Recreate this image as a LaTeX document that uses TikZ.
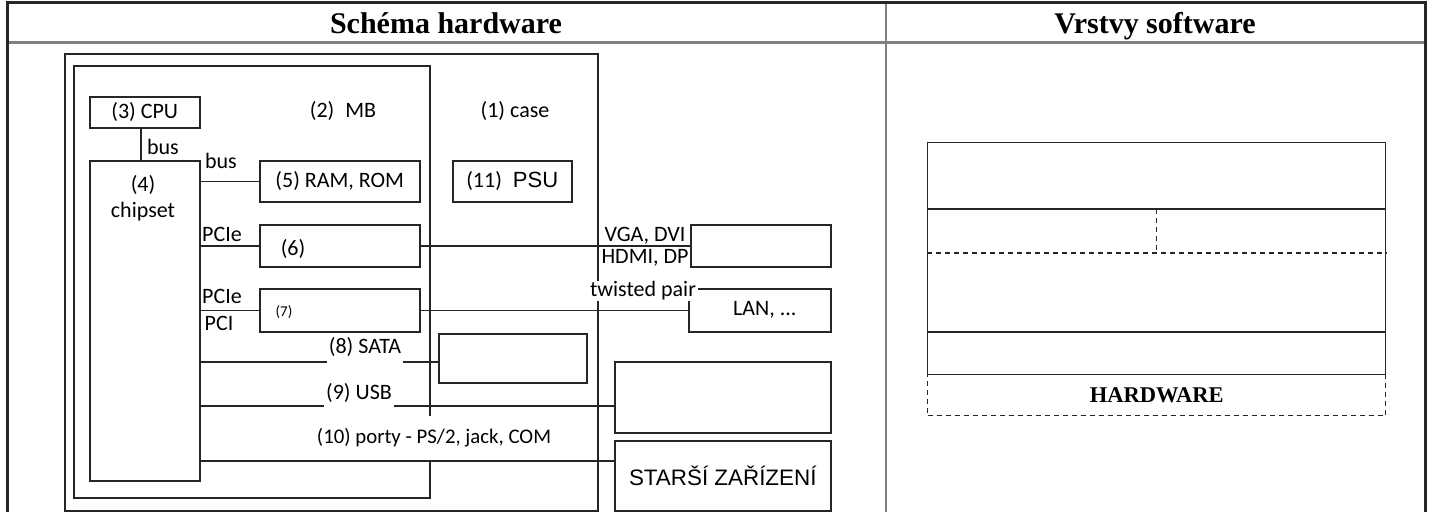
\documentclass[tikz,border=0pt]{standalone}
\usepackage{fontspec}
\setmainfont{Carlito}
\newfontfamily\titlefont{Liberation Serif}
\newfontfamily\arialfont{Liberation Sans}
\pgfdeclarelayer{bg}
\pgfdeclarelayer{back}
\pgfdeclarelayer{cover}
\pgfsetlayers{bg,back,cover,main}
\begin{document}
\begin{tikzpicture}[x=1pt,y=-1pt,
  box/.style={draw=black!85, line width=1.5pt, inner sep=0pt, anchor=north west, font=\fontsize{22}{26}\selectfont},
  conn/.style={draw=black!85, line width=1.5pt},
  lbl/.style={inner sep=1pt, font=\fontsize{22}{26}\selectfont},
  cover/.style={lbl, fill=white, inner xsep=2pt},
  frame/.style={draw=black!85, line width=3pt},
  grid/.style={draw=black!50, line width=2.5pt},
  title/.style={anchor=base, font=\titlefont\bfseries\fontsize{30}{36}\selectfont},
  swline/.style={draw=black!85, line width=1.3pt},
  swdash/.style={draw=black!85, line width=1.3pt, dash pattern=on 5pt off 4pt}
]
\begin{pgfonlayer}{bg}
\fill[white] (0,0) rectangle (1433,512);
\end{pgfonlayer}
\useasboundingbox (0,0) rectangle (1433,512);
% table frame
\draw[grid] (7,42.5) -- (1425,42.5);
\draw[grid] (886,2) -- (886,512);
\draw[frame] (7,2) -- (1425,2);
\draw[frame] (7,0.5) -- (7,512);
\draw[frame] (1425,0.5) -- (1425,512);
\node[title] (t1) at (446,33) {Schéma hardware};
\node[title] (t2) at (1155,33) {Vrstvy software};

% small boxes
\node[box, minimum width=110pt, minimum height=31pt] (cpu) at (89,96) {(3) CPU};
\node[box, minimum width=110pt, minimum height=320pt] (chipset) at (89,160) {};
\node[box, minimum width=160pt, minimum height=41pt] (ram) at (259,160) {(5) RAM, ROM};
\node[box, minimum width=119pt, minimum height=41pt] (psu) at (452,160) {(11)\enspace{\arialfont\fontsize{22}{26}\selectfont PSU}};
\node[box, minimum width=160pt, minimum height=42pt] (gpu) at (259,224) {};
\node[box, minimum width=160pt, minimum height=43pt] (nic) at (259,288) {};
\node[box, minimum width=140pt, minimum height=42pt] (mon) at (690,224) {};
\node[box, minimum width=142pt, minimum height=43pt] (lan) at (688,288) {\hspace*{10pt}LAN, ...};
\node[box, minimum width=148pt, minimum height=49pt] (sata) at (438,333) {};
\node[box, minimum width=216pt, minimum height=71pt] (usb) at (614,361) {};
\node[box, minimum width=216pt, minimum height=70pt] (legacy) at (614,440) {\arialfont\fontsize{22.4}{26}\selectfont STARŠÍ ZAŘÍZENÍ};

\coordinate (ys) at (0,362);
\coordinate (yu) at (0,406);
\coordinate (yl) at (0,461);

\begin{pgfonlayer}{back}
\node[box, minimum width=533pt, minimum height=457pt] (case) at (64,53) {};
\node[box, minimum width=356pt, minimum height=432pt] (mb) at (73,65) {};
\draw[conn] ([xshift=-4pt]cpu.south) -- ([xshift=-4pt]cpu.south |- chipset.north);
\draw[conn] (chipset.east |- ram.west) -- (ram.west);
\draw[conn] (chipset.east |- gpu.west) -- (gpu.west);
\draw[conn] (gpu.east) -- (mon.west);
\draw[conn] (chipset.east |- nic.west) -- (nic.west);
\draw[conn] (nic.east) -- (lan.west);
\draw[conn] (chipset.east |- ys) -- (sata.west |- ys);
\draw[conn] (chipset.east |- yu) -- (usb.west |- yu);
\draw[conn] (chipset.east |- yl) -- (legacy.west |- yl);
\end{pgfonlayer}

\begin{pgfonlayer}{cover}
\node[cover, inner ysep=6pt] (l8) at (365,347) {(8) SATA};
\node[cover, inner ysep=8pt] (l9) at (359,393) {(9) USB};
\node[cover, inner ysep=13pt, font=\fontsize{20.8}{25}\selectfont] (l10) at (434,438) {(10) porty - PS/2, jack, COM};
\end{pgfonlayer}

% labels
\node[lbl] (l2) at (343,111) {(2)\enspace MB};
\node[lbl] (l1) at (515,111) {(1) case};
\node[lbl] (b1) at (163,147) {bus};
\node[lbl] (b2) at (221,161) {bus};
\node[lbl, align=center, font=\fontsize{22}{26}\selectfont] (l4) at (143,198) {(4)\\chipset};
\node[lbl] (p1) at (222,234) {PCIe};
\node[lbl] (p2) at (222,296) {PCIe};
\node[lbl] (p3) at (219,323) {PCI};
\node[lbl] (l6) at (293,249) {(6)};
\node[lbl, font=\fontsize{15}{18}\selectfont] (l7) at (284,312) {(7)};
\node[lbl] (v1) at (645,236) {VGA, DVI};
\node[lbl] (v2) at (645,258) {HDMI, DP};
\node[cover] (tp) at (643,291) {twisted pair};

% software layers
\node[draw=black!85, line width=1.3pt, dash pattern=on 5pt off 4pt, anchor=north west, minimum width=458pt, minimum height=41pt, inner sep=0pt, font=\titlefont\bfseries\fontsize{22.5}{26}\selectfont] (hw) at (927,374) {HARDWARE};
\node[draw=black!85, line width=1.3pt, anchor=north west, minimum width=458pt, minimum height=232pt, inner sep=0pt] (sw) at (927,142) {};
\coordinate (y1) at (0,209);
\coordinate (y2) at (0,253);
\coordinate (y3) at (0,332);
\draw[swline] (sw.west |- y1) -- (sw.east |- y1);
\draw[swdash] (sw.west |- y2) -- (sw.east |- y2);
\draw[swline] (sw.west |- y3) -- (sw.east |- y3);
\draw[swdash] (sw.north |- y1) -- (sw.north |- y2);
\end{tikzpicture}
\end{document}
